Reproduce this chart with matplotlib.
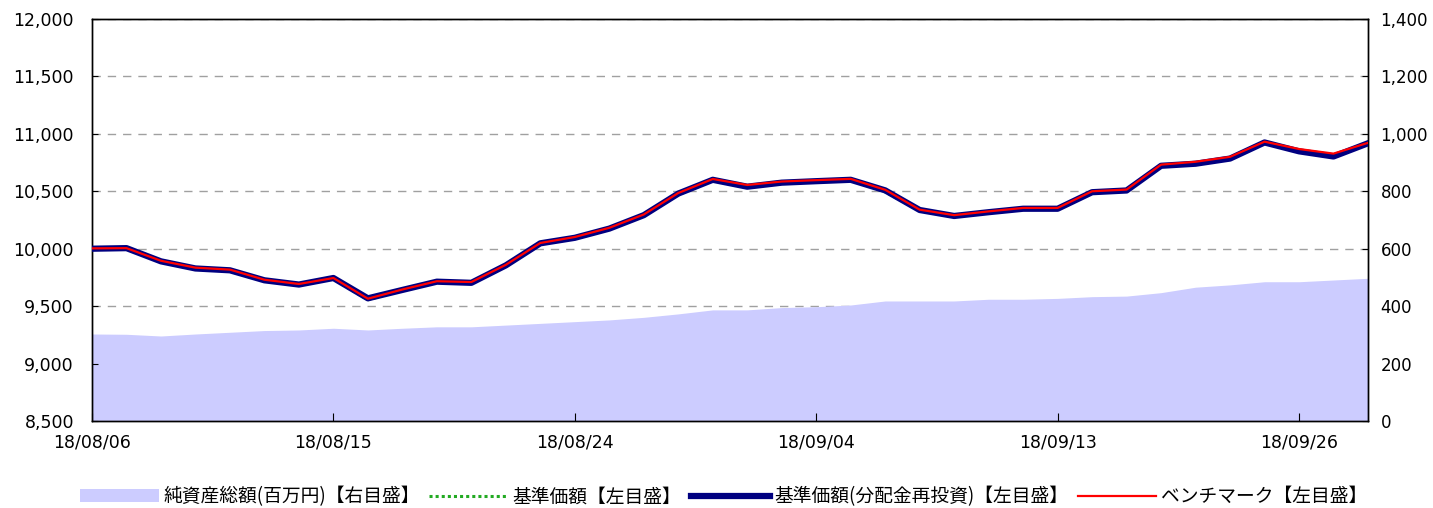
import matplotlib
matplotlib.use('Agg')
import matplotlib.pyplot as plt
from matplotlib.ticker import FuncFormatter

plt.rcParams['font.family'] = ['DejaVu Sans', 'Noto Sans CJK JP']

# business days 2018/08/06 - 2018/09/28
dates = ['18/08/06', '18/08/07', '18/08/08', '18/08/09', '18/08/10',
         '18/08/13', '18/08/14', '18/08/15', '18/08/16', '18/08/17',
         '18/08/20', '18/08/21', '18/08/22', '18/08/23', '18/08/24',
         '18/08/27', '18/08/28', '18/08/29', '18/08/30', '18/08/31',
         '18/09/03', '18/09/04', '18/09/05', '18/09/06', '18/09/07',
         '18/09/10', '18/09/11', '18/09/12', '18/09/13', '18/09/14',
         '18/09/18', '18/09/19', '18/09/20', '18/09/21', '18/09/25',
         '18/09/26', '18/09/27', '18/09/28']

# 純資産総額 (百万円, right axis)
net_assets = [303, 302, 296, 303, 309, 315, 317, 323, 317, 323,
              328, 328, 334, 340, 346, 352, 361, 373, 387, 387,
              395, 398, 404, 418, 418, 418, 424, 424, 427, 433,
              435, 447, 466, 474, 485, 485, 491, 497]

# 基準価額(分配金再投資) (left axis)
nav_reinvest = [10000, 10005, 9890, 9828, 9812, 9725, 9688, 9745, 9568, 9641,
                9713, 9703, 9855, 10047, 10095, 10175, 10292, 10480, 10600, 10540,
                10575, 10588, 10600, 10508, 10337, 10285, 10318, 10348, 10348, 10492,
                10507, 10722, 10740, 10785, 10925, 10848, 10803, 10918]

# 基準価額 (left axis)
nav = [10000, 10010, 9890, 9828, 9812, 9725, 9688, 9735, 9555, 9641,
       9713, 9703, 9850, 10040, 10095, 10175, 10290, 10470, 10600, 10540,
       10575, 10588, 10600, 10495, 10330, 10285, 10318, 10348, 10348, 10492,
       10500, 10722, 10740, 10785, 10925, 10848, 10803, 10918]

# ベンチマーク (left axis)
benchmark = [10003, 10005, 9895, 9835, 9818, 9730, 9693, 9745, 9565, 9645,
             9717, 9710, 9860, 10050, 10102, 10182, 10298, 10485, 10607, 10555,
             10585, 10597, 10608, 10513, 10340, 10292, 10325, 10355, 10355, 10500,
             10515, 10732, 10757, 10800, 10932, 10868, 10828, 10922]

x = list(range(len(dates)))

fig = plt.figure(figsize=(14.33, 5.08), dpi=100)
ax = fig.add_axes([92 / 1433, 1 - 421 / 508, (1368 - 92) / 1433, (421 - 19) / 508])
ax2 = ax.twinx()
ax.set_zorder(ax2.get_zorder() + 1)
ax.patch.set_visible(False)

# area + grid on the right axis (grid positions coincide with left axis)
ax2.fill_between(x, net_assets, 0, color='#CCCCFF', linewidth=0, zorder=2,
                 label='純資産総額(百万円)【右目盛】')
ax2.set_ylim(0, 1400)
ax2.set_yticks(range(0, 1401, 200))
ax2.yaxis.grid(True, linestyle=(0, (6, 5)), color='#A0A0A0', linewidth=1)
ax2.set_axisbelow(True)
ax2.yaxis.set_major_formatter(FuncFormatter(lambda v, p: f'{int(v):,}'))
ax2.tick_params(axis='y', direction='in', length=4, pad=9, labelsize=12)

# lines on the left axis
ax.plot(x, nav, color='#22AA22', linestyle=(0, (1, 1)), linewidth=2.2, zorder=3,
        label='基準価額【左目盛】')
ax.plot(x, nav_reinvest, color='#000080', linewidth=4.5, zorder=4,
        solid_joinstyle='round', label='基準価額(分配金再投資)【左目盛】')
ax.plot(x, benchmark, color='#FF0000', linewidth=1.6, zorder=5,
        label='ベンチマーク【左目盛】')

ax.set_xlim(0, len(dates) - 1)
ax.set_ylim(8500, 12000)
ax.set_yticks(range(8500, 12001, 500))
ax.yaxis.set_major_formatter(FuncFormatter(lambda v, p: f'{int(v):,}'))
ax.set_xticks(x[::7])
ax.set_xticklabels(dates[::7])
ax.tick_params(axis='y', direction='in', length=4, pad=13, labelsize=12.5)
ax.tick_params(axis='x', direction='in', length=6, pad=9, labelsize=12.5)
ax2.tick_params(axis='x', length=0)

for a in (ax, ax2):
    for s in a.spines.values():
        s.set_color('black')
        s.set_linewidth(1)

h2, l2 = ax2.get_legend_handles_labels()
h1, l1 = ax.get_legend_handles_labels()
fig.legend(h2 + h1, l2 + l1, loc='center', bbox_to_anchor=(0.505, 0.022), ncol=4,
           frameon=False, handlelength=4.2, handletextpad=0.25, columnspacing=0.5,
           prop={'family': ['Noto Sans CJK JP', 'DejaVu Sans'], 'size': 13.5})

fig.savefig('out.png', dpi=100)
